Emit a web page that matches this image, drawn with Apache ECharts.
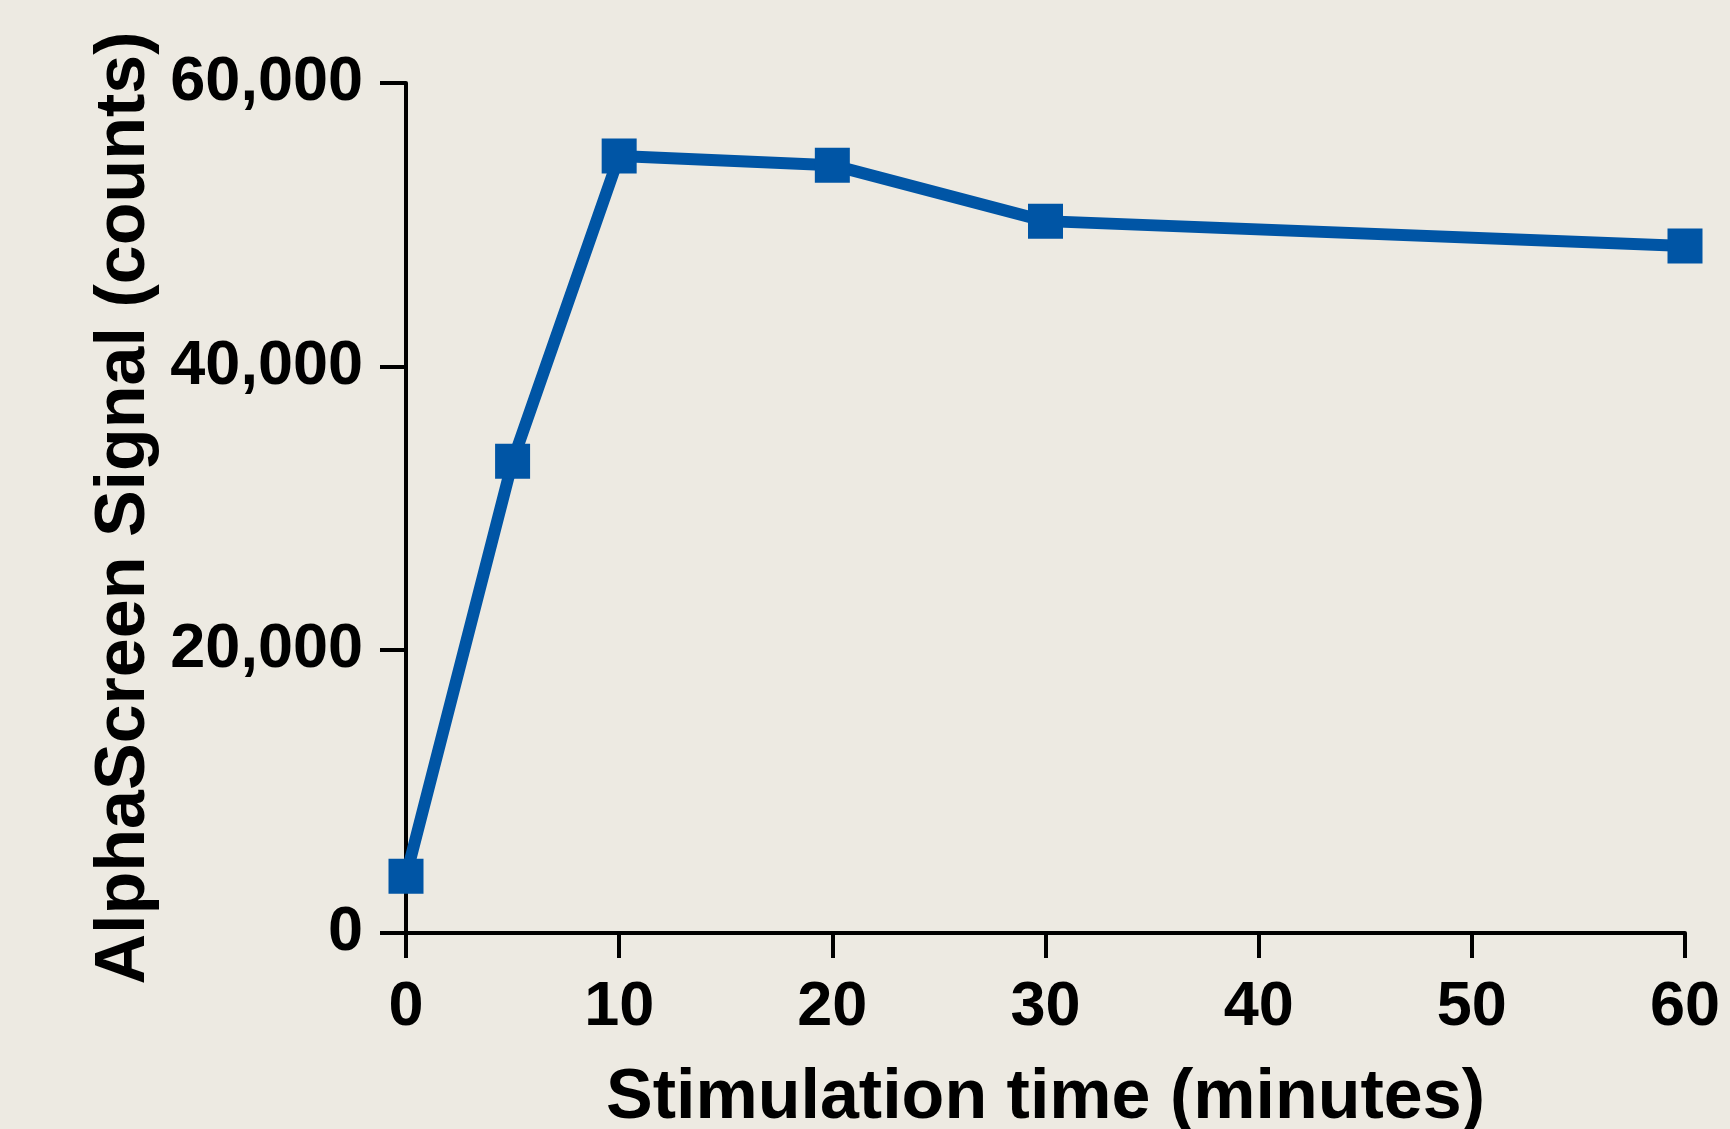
<!DOCTYPE html>
<html>
<head>
<meta charset="utf-8">
<script src="https://cdn.jsdelivr.net/npm/echarts@6/dist/echarts.min.js"></script>
<style>
html,body{margin:0;padding:0;background:#EDEAE2;}
#chart{width:1730px;height:1129px;}
</style>
</head>
<body>
<div id="chart"></div>
<script>
const times = [0, 5, 10, 20, 30, 60];
const signal = [4000, 33300, 54850, 54200, 50250, 48500];
const xTicks = [0, 10, 20, 30, 40, 50, 60];
const yTicks = [0, 20000, 40000, 60000];
const xTitle = 'Stimulation time (minutes)';
const yTitle = 'AlphaScreen Signal (counts)';

const FONT = '"Liberation Sans", Arial, Helvetica, sans-serif';
const chart = echarts.init(document.getElementById('chart'), null, {renderer: 'canvas'});
chart.setOption({
  backgroundColor: '#EDEAE2',
  animation: false,
  grid: {left: 406, right: 45, top: 83, bottom: 196, containLabel: false, outerBoundsMode: 'none'},
  xAxis: {
    type: 'value',
    min: xTicks[0], max: xTicks[xTicks.length - 1], interval: 10,
    name: xTitle, nameLocation: 'middle', nameGap: 131,
    nameTextStyle: {fontFamily: FONT, fontWeight: 'bold', fontSize: 70, color: '#000'},
    axisLine: {show: true, onZero: false, lineStyle: {color: '#000', width: 4}},
    axisTick: {show: true, inside: false, length: 25, lineStyle: {color: '#000', width: 4}},
    axisLabel: {fontFamily: FONT, fontWeight: 'bold', fontSize: 63, color: '#000', margin: 43},
    splitLine: {show: false}
  },
  yAxis: {
    type: 'value',
    min: yTicks[0], max: yTicks[yTicks.length - 1], interval: 20000,
    name: yTitle, nameLocation: 'middle', nameGap: 240,
    nameTextStyle: {fontFamily: FONT, fontWeight: 'bold', fontSize: 70, color: '#000'},
    axisLine: {show: true, onZero: false, lineStyle: {color: '#000', width: 4}},
    axisTick: {show: true, inside: false, length: 26, lineStyle: {color: '#000', width: 4}},
    axisLabel: {fontFamily: FONT, fontWeight: 'bold', fontSize: 63, color: '#000', margin: 43,
      formatter: v => v.toLocaleString('en-US')},
    splitLine: {show: false}
  },
  series: [{
    type: 'line',
    data: times.map((t, i) => [t, signal[i]]),
    symbol: 'rect', symbolSize: 35,
    lineStyle: {color: '#0055A5', width: 12},
    itemStyle: {color: '#0055A5'},
    clip: false
  }]
});
</script>
</body>
</html>
